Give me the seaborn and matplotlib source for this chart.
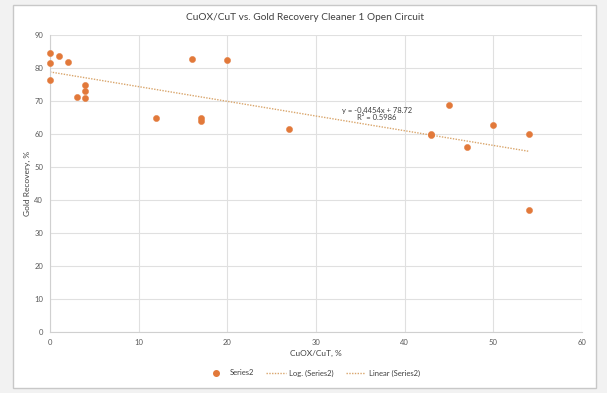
import matplotlib
matplotlib.use("Agg")
import matplotlib.pyplot as plt
from matplotlib.lines import Line2D
from matplotlib.patches import Rectangle
import numpy as np
import pandas as pd
import seaborn as sns

# ---- data ----
cuox_cut = [0, 0, 0, 1, 2, 3, 4, 4, 4, 12, 16, 17, 17, 20, 27,
            43, 43, 45, 47, 50, 54, 54]
gold_recovery = [84.5, 81.3, 76.2, 83.6, 81.7, 71.2, 74.8, 72.9, 70.8, 64.9, 82.7, 64.8, 63.8, 82.3, 61.5,
                 59.5, 59.8, 68.7, 55.9, 62.5, 60.0, 36.8]
trend_slope = -0.4454
trend_intercept = 78.72
trend_r2 = 0.5986
title = "CuOX/CuT vs. Gold Recovery Cleaner 1 Open Circuit"
x_label = "CuOX/CuT, %"
y_label = "Gold Recovery, %"
legend_labels = ["Series2", "Log. (Series2)", "Linear (Series2)"]

df = pd.DataFrame({"x": cuox_cut, "y": gold_recovery})

sns.set_theme(style="white")
plt.rcParams["font.family"] = ["Lato", "DejaVu Sans"]

W, H = 607, 393
fig = plt.figure(figsize=(W / 100, H / 100), dpi=100, facecolor="#f2f2f2")

# chart frame (white box with gray border)
frame = Rectangle((13 / W, 1 - 388 / H), (596 - 13) / W, (388 - 5) / H,
                  transform=fig.transFigure, facecolor="white",
                  edgecolor="#c8c8c8", lw=1, zorder=-5)
fig.patches.append(frame)

ax = fig.add_axes([50 / W, 1 - 331.7 / H, (582 - 50) / W, (331.7 - 34.7) / H])
ax.set_zorder(2)
ax.set_facecolor("white")

orange = "#E2793A"
trend_col = "#D9A56B"

sns.scatterplot(data=df, x="x", y="y", ax=ax, color=orange, s=20,
                edgecolor=orange, linewidth=0.3, zorder=3, legend=False, clip_on=False)

xs = np.array([min(cuox_cut), max(cuox_cut)])
ax.plot(xs, trend_slope * xs + trend_intercept, color=trend_col, lw=1.0,
        linestyle=(0, (1, 1)), zorder=2)

ax.text(36.85, 66.0, f"y = {trend_slope}x + {trend_intercept}\nR² = {trend_r2}",
        ha="center", va="center", fontsize=5.5, color="#404040", linespacing=1.05)

ax.set_xlim(0, 60)
ax.set_ylim(0, 90)
ax.set_xticks(range(0, 61, 10))
ax.set_yticks(range(0, 91, 10))
ax.grid(True, color="#e0e0e0", lw=0.8)
for s in ["top", "right"]:
    ax.spines[s].set_visible(False)
for s in ["left", "bottom"]:
    ax.spines[s].set_color("#d0d0d0")
    ax.spines[s].set_linewidth(0.8)
ax.tick_params(axis="both", length=0, labelsize=5.5, colors="#595959", pad=5)

ax.set_xlabel(x_label, fontsize=6, color="#404040", labelpad=3)
ax.set_ylabel(y_label, fontsize=6, color="#404040", labelpad=2)

fig.text(305 / W, 1 - 18 / H, title, ha="center", va="center", fontsize=7.3, color="#404040")

handles = [
    Line2D([], [], marker="o", linestyle="none", color=orange, markersize=4),
    Line2D([], [], color=trend_col, lw=1.0, linestyle=(0, (1, 1))),
    Line2D([], [], color=trend_col, lw=1.0, linestyle=(0, (1, 1))),
]
fig.legend(handles, legend_labels, loc="center", bbox_to_anchor=(313 / W, 1 - 373 / H),
           ncol=3, frameon=False, fontsize=5.5, handlelength=2.6, handletextpad=0.4,
           columnspacing=1.6, labelcolor="#404040")

fig.savefig("out.png", dpi=100, facecolor=fig.get_facecolor())
